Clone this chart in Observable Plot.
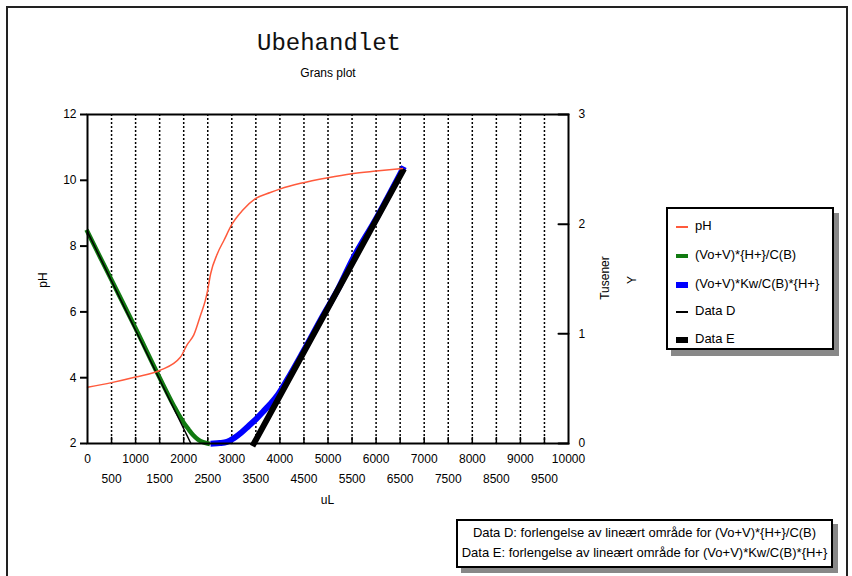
<!DOCTYPE html>
<html><head><meta charset="utf-8">
<script src="https://cdn.jsdelivr.net/npm/d3@7"></script>
<script src="https://cdn.jsdelivr.net/npm/@observablehq/plot@0.6"></script>
<style>
body{margin:0;background:#fff;font-family:"Liberation Sans",Arial,sans-serif;color:#000;}
#wrap{position:relative;width:852px;height:576px;overflow:hidden;background:#fff;}
#outer{position:absolute;left:6px;top:6px;width:838px;height:600px;border:2px solid #222;}
.abs{position:absolute;white-space:nowrap;}
#title{left:0;width:658px;top:30px;text-align:center;font-family:"Liberation Mono","DejaVu Sans Mono",monospace;font-size:24px;color:#111;}
#subtitle{left:0;width:656px;top:66px;text-align:center;font-size:12px;}
.rot{transform:translate(-50%,-50%) rotate(-90deg);font-size:12px;}
#legend{left:666px;top:207px;width:164px;height:139px;border:2px solid #000;background:#fff;box-shadow:5px 6px 0 #888;}
.item{position:absolute;left:8px;font-size:13px;line-height:14px;}
.sym{display:inline-block;width:12px;vertical-align:middle;margin-right:7px;}
#caption{left:456px;top:519px;width:373px;height:43px;border:2px solid #000;background:#fff;box-shadow:5px 5px 0 #888;font-size:13px;text-align:center;line-height:20px;padding-top:2px;}
</style></head><body>
<div id="wrap">
<div id="outer"></div>
<div id="chart" class="abs" style="left:0;top:0"></div>
<div id="title" class="abs">Ubehandlet</div>
<div id="subtitle" class="abs">Grans plot</div>
<div class="abs rot" style="left:43px;top:280px">pH</div>
<div class="abs" style="left:0;width:655px;top:493px;text-align:center;font-size:12px">uL</div>
<div class="abs rot" style="left:605px;top:278px">Tusener</div>
<div class="abs rot" style="left:632px;top:280px">Y</div>
<div id="legend" class="abs"></div>
<div id="caption" class="abs">Data D: forlengelse av lineært område for (Vo+V)*{H+}/C(B)<br>Data E: forlengelse av lineært område for (Vo+V)*Kw/C(B)*{H+}</div>
</div>
<script>
// ---- data ----
const phX = [0, 500, 1000, 1500, 1930, 2070, 2210, 2350, 2450, 2490, 2560, 2700, 2835, 3010, 3220, 3490, 3800, 4010, 4430, 5000, 5500, 6000, 6550];
const phY = [3.71, 3.85, 4.02, 4.22, 4.62, 5.0, 5.3, 5.9, 6.35, 6.6, 7.16, 7.77, 8.17, 8.68, 9.08, 9.44, 9.63, 9.74, 9.91, 10.08, 10.20, 10.28, 10.36];
const gX = [0, 500, 1000, 1500, 1800, 1900, 2000, 2100, 2200, 2300, 2400, 2500];
const gY = [1.93, 1.49, 1.05, 0.60, 0.34, 0.26, 0.19, 0.13, 0.075, 0.035, 0.012, 0.0];
const bX = [2620, 2750, 2900, 3050, 3200, 3350, 3500, 3650, 3800, 3950, 4150, 4500, 4900, 5200, 5500, 6000, 6550];
const bY = [0.0, 0.004, 0.015, 0.05, 0.10, 0.16, 0.22, 0.29, 0.36, 0.44, 0.58, 0.85, 1.17, 1.40, 1.67, 2.05, 2.50];
const dX = [0, 2150];
const dY = [1.93, 0];
const eX = [3460, 6550];
const eY = [0, 2.48];
const xTicksRow1 = [0, 1000, 2000, 3000, 4000, 5000, 6000, 7000, 8000, 9000, 10000];
const xTicksRow2 = [500, 1500, 2500, 3500, 4500, 5500, 6500, 7500, 8500, 9500];
const leftTicks = [2, 4, 6, 8, 10, 12];
const rightTicks = [0, 1, 2, 3];
const seriesNames = ["pH", "(Vo+V)*{H+}/C(B)", "(Vo+V)*Kw/C(B)*{H+}", "Data D", "Data E"];
const colors = ["#ff5a3c", "#117a11", "#0000ff", "#000000", "#000000"];

// right axis (0..3 thousand) mapped onto the pH scale domain (2..12)
const rMin = 0, rMax = 3, lMin = 2, lMax = 12;
const toLeft = v => lMin + (v - rMin) * (lMax - lMin) / (rMax - rMin);
const toRight = p => rMin + (p - lMin) * (rMax - rMin) / (lMax - lMin);

const zip = (xs, ys) => xs.map((x, i) => ({x, y: ys[i]}));
const ph = zip(phX, phY);
const green = zip(gX, gY);
const blue = zip(bX, bY);
const dataD = zip(dX, dY);
const dataE = zip(eX, eY);
const gridTicks = xTicksRow1.concat(xTicksRow2).filter(v => v > 0 && v < 10000).sort((a, b) => a - b);

const tickShape = {draw(ctx, l) { ctx.moveTo(0, 0); ctx.lineTo(0, -l); }};

const chart = Plot.plot({
  width: 852, height: 576,
  marginLeft: 87, marginRight: 284, marginTop: 114, marginBottom: 133,
  style: {background: "transparent", fontFamily: "'Liberation Sans', Arial, sans-serif", fontSize: "12px", color: "#000"},
  x: {domain: [0, 10000]},
  y: {domain: [lMin, lMax]},
  marks: [
    Plot.ruleX(gridTicks, {x: d => d, stroke: "#000", strokeWidth: 1.5, strokeDasharray: "2,2"}),
    Plot.vector(gridTicks, {x: d => d, frameAnchor: "bottom", length: 6, rotate: 0, anchor: "start", shape: tickShape, stroke: "#000", strokeWidth: 1.5}),
    Plot.vector(rightTicks.map(toLeft), {x: 10000, y: d => d, length: 10, rotate: 270, anchor: "start", shape: tickShape, stroke: "#000", strokeWidth: 2}),
    Plot.line(green, {x: "x", y: d => toLeft(d.y), stroke: colors[1], strokeWidth: 4.5, strokeLinecap: "square", curve: "monotone-x"}),
    Plot.line(dataD, {x: "x", y: d => toLeft(d.y), stroke: colors[3], strokeWidth: 1.5}),
    Plot.line(blue, {x: "x", y: d => toLeft(d.y), stroke: colors[2], strokeWidth: 6, strokeLinecap: "square", curve: "monotone-x"}),
    Plot.line(dataE, {x: "x", y: d => toLeft(d.y), stroke: colors[4], strokeWidth: 6, strokeLinecap: "square"}),
    Plot.line(ph, {x: "x", y: "y", stroke: colors[0], strokeWidth: 1.5, curve: "monotone-x"}),
    Plot.frame({stroke: "#000", strokeWidth: 2}),
    Plot.axisY({anchor: "left", ticks: leftTicks, tickFormat: d => String(d), tickSize: 7, tickPadding: 4, strokeWidth: 2, label: null, fontSize: 12}),
    Plot.axisY({anchor: "right", ticks: rightTicks.map(toLeft), tickFormat: d => String(Math.round(toRight(d))), tickSize: 0, tickPadding: 10, label: null, fontSize: 12}),
    Plot.axisX({ticks: xTicksRow1, tickFormat: d => String(d), tickSize: 0, tickPadding: 11, label: null, fontSize: 12}),
    Plot.axisX({ticks: xTicksRow2, tickFormat: d => String(d), tickSize: 0, tickPadding: 31, label: null, fontSize: 12})
  ]
});
document.getElementById("chart").appendChild(chart);

// legend
const symH = [2, 4, 6, 2, 6];
const rowsY = [10, 39, 68, 95, 123];
const leg = document.getElementById("legend");
seriesNames.forEach((name, i) => {
  const it = document.createElement("div");
  it.className = "item";
  it.style.top = (rowsY[i]) + "px";
  const s = document.createElement("span");
  s.className = "sym";
  s.style.height = symH[i] + "px";
  s.style.background = colors[i];
  it.appendChild(s);
  it.appendChild(document.createTextNode(name));
  leg.appendChild(it);
});
</script>
</body></html>
